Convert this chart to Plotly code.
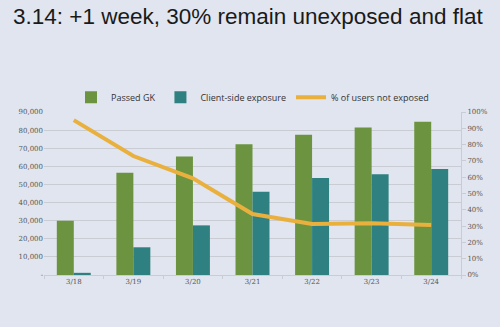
import plotly.graph_objects as go

dates = ["3/18", "3/19", "3/20", "3/21", "3/22", "3/23", "3/24"]
passed_gk = [30000, 56500, 65400, 72200, 77400, 81500, 84600]
client_side = [1200, 15300, 27400, 46000, 53600, 55600, 58500]
pct_not_exposed = [0.95, 0.73, 0.593, 0.374, 0.313, 0.317, 0.307]

left_ticks = list(range(0, 90001, 10000))
left_text = ["-"] + [f"{v:,}" for v in left_ticks[1:]]
right_ticks = [i / 10 for i in range(11)]
right_text = [f"{i*10}%" for i in range(11)]

bg = "#e0e5ef"
green = "#6c9440"
teal = "#2e8180"
orange = "#e9b03e"
tickfont = dict(family="DejaVu Serif", size=7, color="#555555")

fig = go.Figure()
fig.add_trace(go.Bar(x=dates, y=passed_gk, name="Passed GK", marker_color=green, marker_line_width=0))
fig.add_trace(go.Bar(x=dates, y=client_side, name="Client-side exposure", marker_color=teal, marker_line_width=0))
fig.add_trace(go.Scatter(x=dates, y=pct_not_exposed, name="% of users not exposed", mode="lines",
                         line=dict(color=orange, width=4), yaxis="y2"))

fig.update_layout(
    width=500, height=327,
    paper_bgcolor=bg, plot_bgcolor=bg,
    margin=dict(l=44, r=36, t=112, b=52),
    barmode="group", bargap=0.43, bargroupgap=0,
    title=dict(text="3.14: +1 week, 30% remain unexposed and flat", x=0.026, xanchor="left",
               y=0.975, yanchor="top",
               font=dict(family="Liberation Sans", size=22.5, color="#1a1a1a")),
    legend=dict(orientation="h", x=0.5, xanchor="center", y=1.09, yanchor="middle",
                font=dict(family="Open Sans", size=9, color="#333333"),
                bgcolor="rgba(0,0,0,0)", itemwidth=30, tracegroupgap=0),
    xaxis=dict(showgrid=False, showline=True, linecolor="#c8ccd4", ticks="outside",
               tickcolor="#c8ccd4", ticklen=3, tickson="boundaries",
               tickfont=dict(family="DejaVu Serif", size=7, color="#555555")),
    yaxis=dict(range=[0, 90000], tickvals=left_ticks, ticktext=left_text,
               showgrid=True, gridcolor="#c9ccd3", gridwidth=1, zeroline=False,
               showline=False, ticks="", tickfont=tickfont),
    yaxis2=dict(range=[0, 1], overlaying="y", side="right", tickvals=right_ticks, ticktext=right_text,
                showgrid=False, zeroline=False, showline=True, linecolor="#c8ccd4",
                ticks="outside", ticklen=4, tickcolor="#c8ccd4", tickfont=tickfont),
    showlegend=True,
)

fig.write_html("out.html")
